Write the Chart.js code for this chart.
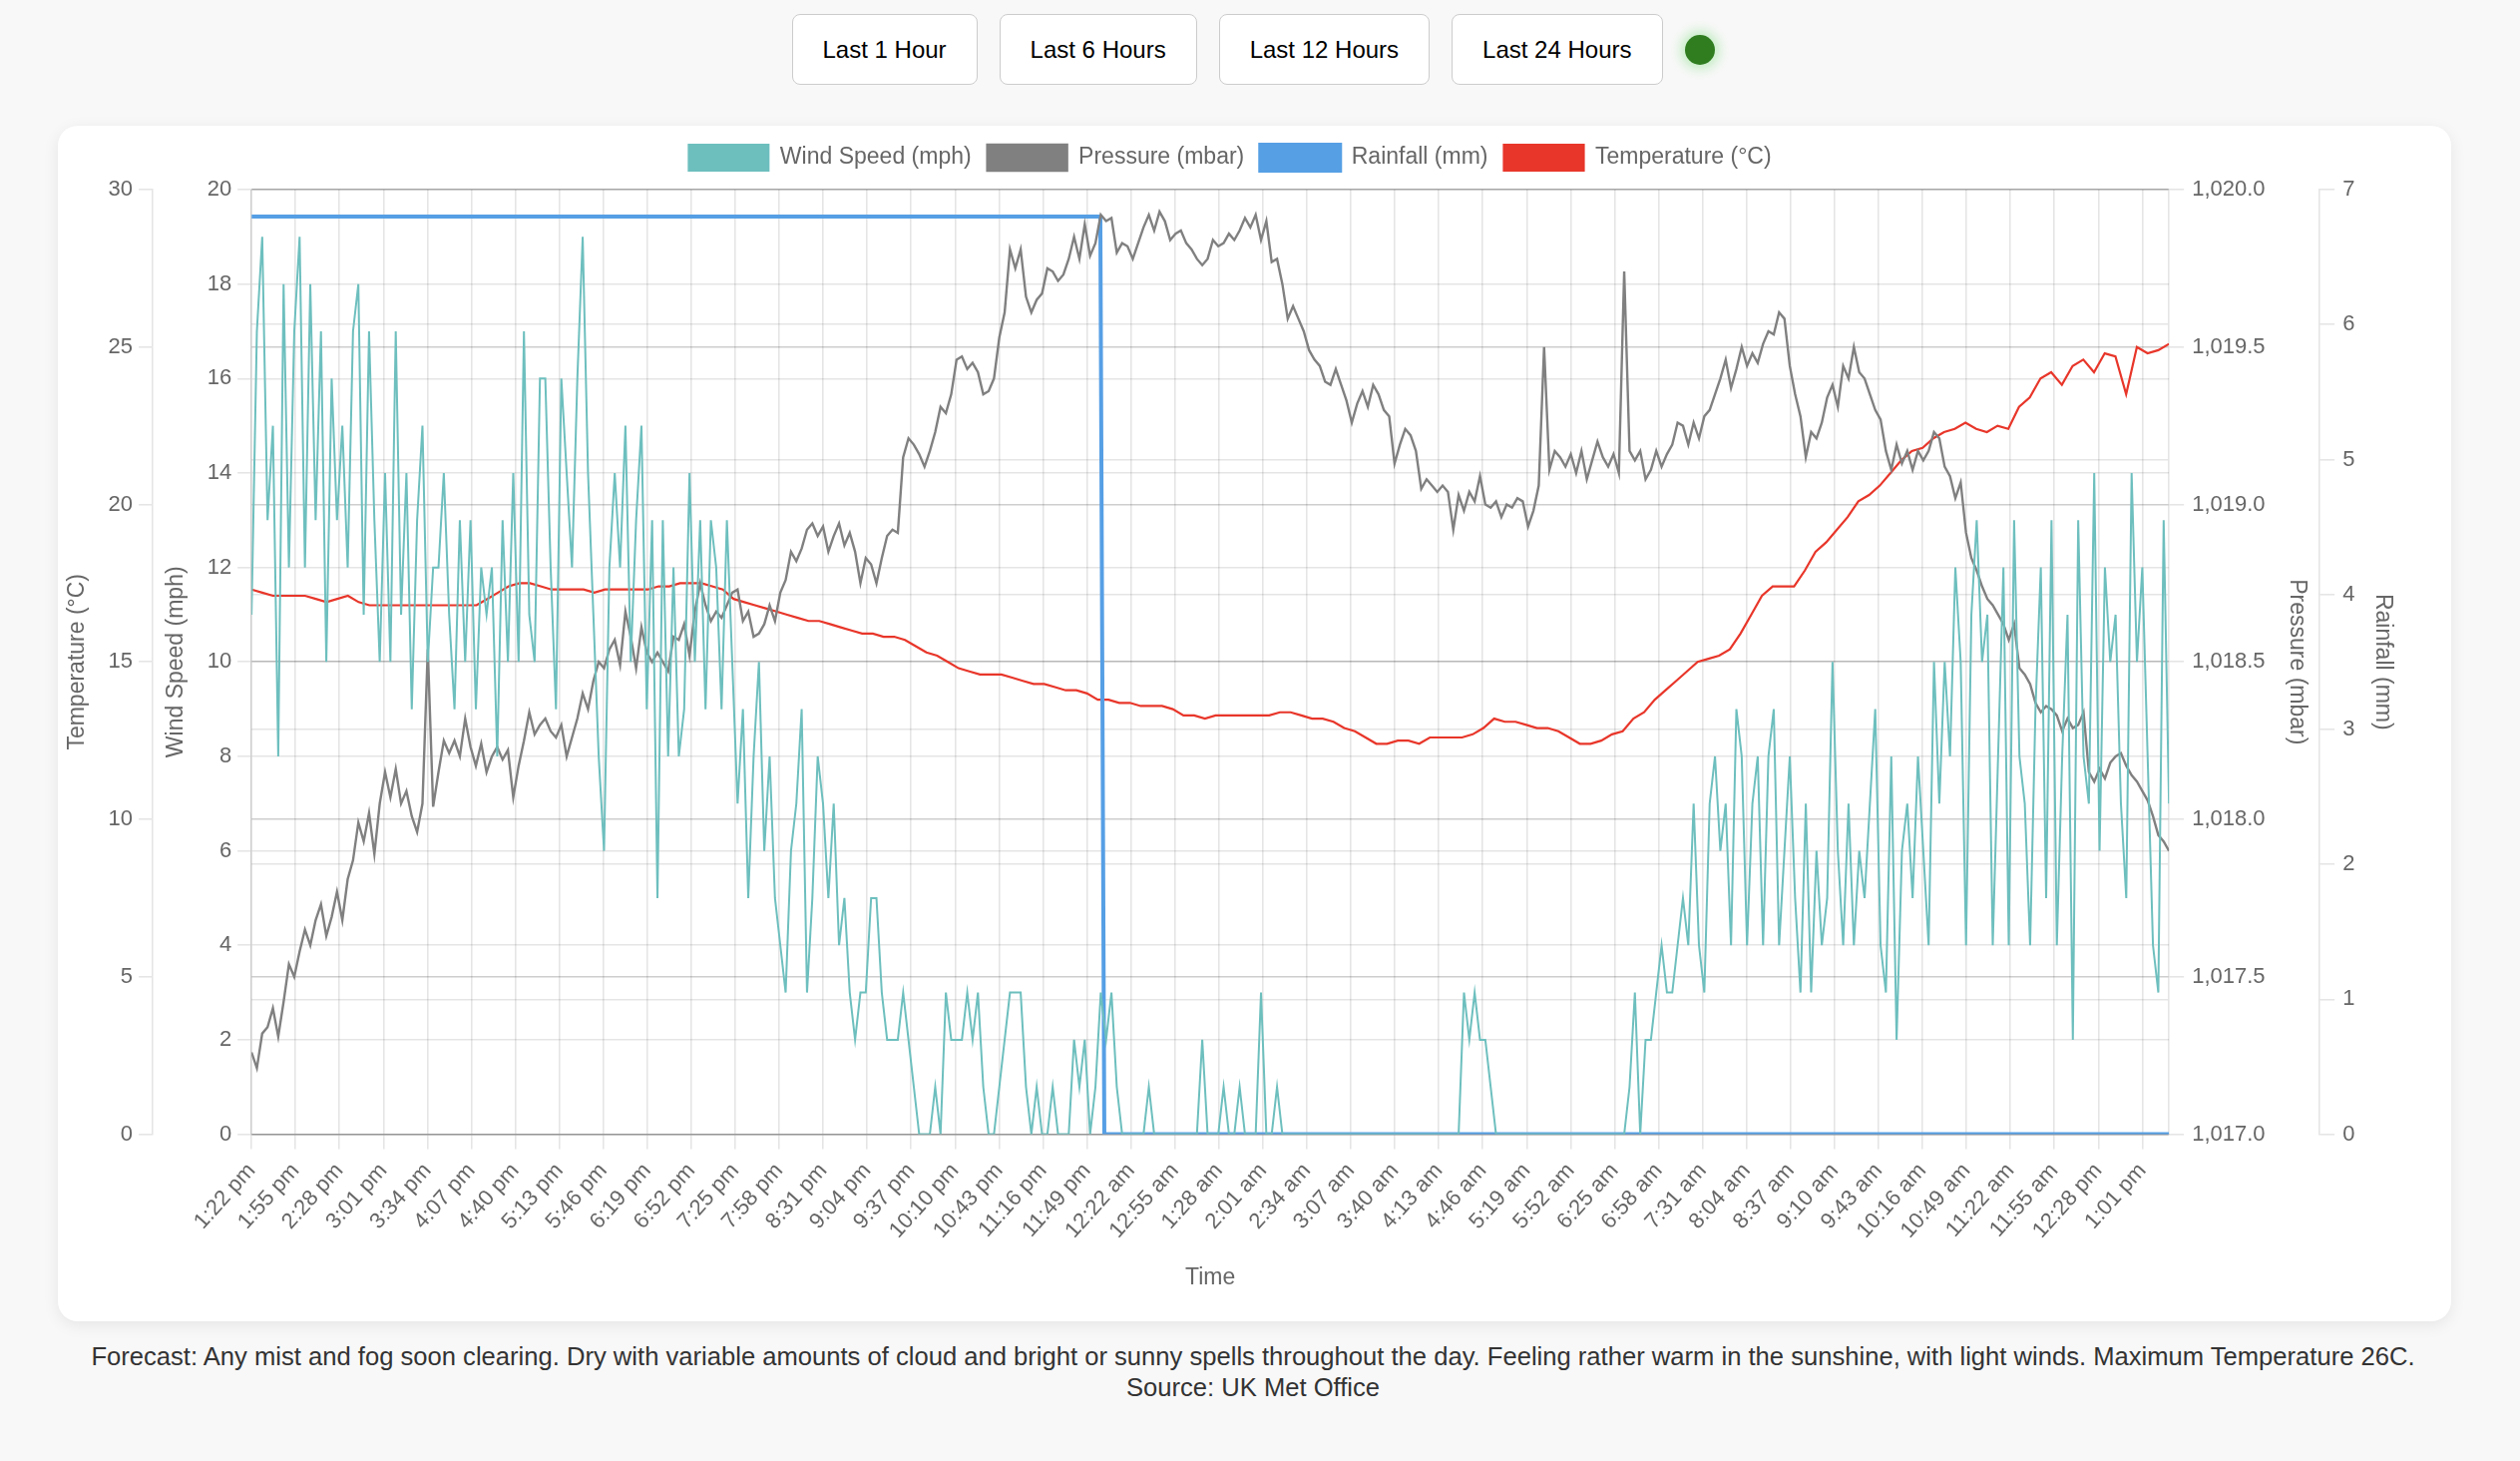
<!DOCTYPE html>
<html lang="en">
<head>
<meta charset="utf-8">
<title>Weather Station</title>
<script src="https://cdn.jsdelivr.net/npm/chart.js@4.4.1/dist/chart.umd.min.js"></script>
<style>
    html, body {
        margin: 0;
        padding: 0;
        background: #f8f8f8;
        font-family: "Liberation Sans", Arial, sans-serif;
    }
    .page {
        width: 2512px;
    }
    .controls {
        display: flex;
        justify-content: center;
        align-items: center;
        gap: 22px;
        padding-top: 14px;
        height: 71px;
    }
    .controls button {
        height: 71px;
        padding: 0 30px;
        font-family: inherit;
        font-size: 24px;
        color: #000;
        background: #fff;
        border: 1.6px solid #ccc;
        border-radius: 8px;
    }
    .status-dot {
        width: 30px;
        height: 30px;
        border-radius: 50%;
        background: #2f7d1f;
        box-shadow: 0 0 12px 4px rgba(120, 220, 120, 0.45);
    }
    .card {
        position: relative;
        margin: 41px 0 0 58px;
        width: 2399px;
        height: 1198px;
        background: #fff;
        border-radius: 20px;
        box-shadow: 0 4px 16px rgba(0, 0, 0, 0.08);
    }
    .forecast {
        margin: 20px 0 0;
        text-align: center;
        font-size: 25.6px;
        line-height: 31px;
        color: #333;
    }
</style>
</head>
<body>
<div class="page">
    <div class="controls">
        <button>Last 1 Hour</button>
        <button>Last 6 Hours</button>
        <button>Last 12 Hours</button>
        <button>Last 24 Hours</button>
        <div class="status-dot"></div>
    </div>

    <div class="card">
        <canvas id="weatherChart"></canvas>
    </div>

    <p class="forecast">
        Forecast: Any mist and fog soon clearing. Dry with variable amounts of cloud and bright or sunny spells throughout the day. Feeling rather warm in the sunshine, with light winds. Maximum Temperature 26C.<br>
        Source: UK Met Office
    </p>
</div>

<script>
// ---------- CHART DATA ----------
// minutes since the first reading (1:22 pm), one reading per minute over 24h
const SPAN_MINUTES = 1439;
const TICK_EVERY = 33;

const timeLabels = [
    "1:22 pm", "1:55 pm", "2:28 pm", "3:01 pm", "3:34 pm", "4:07 pm", "4:40 pm", "5:13 pm",
    "5:46 pm", "6:19 pm", "6:52 pm", "7:25 pm", "7:58 pm", "8:31 pm", "9:04 pm", "9:37 pm",
    "10:10 pm", "10:43 pm", "11:16 pm", "11:49 pm", "12:22 am", "12:55 am", "1:28 am", "2:01 am",
    "2:34 am", "3:07 am", "3:40 am", "4:13 am", "4:46 am", "5:19 am", "5:52 am", "6:25 am",
    "6:58 am", "7:31 am", "8:04 am", "8:37 am", "9:10 am", "9:43 am", "10:16 am", "10:49 am",
    "11:22 am", "11:55 am", "12:28 pm", "1:01 pm"
];

// wind speed (mph), every ~4 minutes
const windSpeed = [
    11,17,19,13,15,8,18,12,17,19, 12,18,13,17,10,16,13,15,12,17,
    18,11,17,13,10,14,10,17,11,14, 9,13,15,10,12,12,14,11,9,13,
    10,13,9,12,11,12,8,13,10,14, 10,17,11,10,16,16,12,9,16,14,
    12,16,19,14,11,8,6,12,14,12, 15,10,13,15,9,13,5,13,8,12,
    8,9,14,10,13,9,13,12,
    9,13,10,7,9,5,8,10,6,8, 5,4,3,6,7,9,3,5,8,7,
    5,7,4,5,3,2,3,3,5,5, 3,2,2,2,3,2,1,0,0,0,
    1,0,3,2,2,2,3,2,3,1, 0,0,1,2,3,3,3,1,0,1,
    0,0,1,0,0,0,2,1,2,0, 1,3,2,3,1,0,0,0,0,0,
    1,0,0,0,0,0,0,0,0,0,
    2,0,0,0,1,0,0,1,0,0, 0,3,0,0,1,0,0,0,0,0,
    0,0,0,0,0,0,0,0,0,0, 0,0,0,0,0,0,0,0,0,0,
    0,0,0,0,0,0,0,0,0,3, 2,3,2,2,1,0,0,0,0,0,
    0,0,0,0,0,0,0,0,0,0, 0,0,0,0,0,0,0,0,0,0,
    1,3,0,2,2,3,4,3,3,4,
    5,4,7,4,3,7,8,6,7,4, 9,8,4,7,8,4,8,9,4,6,
    8,5,3,7,3,6,4,5,10,6, 4,7,4,6,5,7,9,4,3,8,
    2,6,7,5,8,6,4,10,7,10, 8,12,10,4,11,13,10,11,4,8,
    12,4,13,8,7,4,9,12,5,13, 4,8,11,2,13,8,7,14,6,12,
    10,11,7,5,14,10,12,8,4,3, 13,7
];

// pressure (mbar), every ~4 minutes
const pressure = [
    1017.26,1017.21,1017.32,1017.34,1017.40,1017.31,1017.42,1017.54,1017.50,1017.58,
    1017.65,1017.60,1017.68,1017.73,1017.63,1017.69,1017.77,1017.68,1017.81,1017.87,
    1017.99,1017.93,1018.02,1017.89,1018.05,1018.15,1018.07,1018.16,1018.05,1018.09,
    1018.01,1017.96,1018.05,1018.54,1018.04,1018.15,1018.25,1018.21,1018.25,1018.20,
    1018.32,1018.23,1018.17,1018.24,1018.15,1018.20,1018.23,1018.19,1018.22,1018.07,
    1018.17,1018.25,1018.34,1018.27,1018.30,1018.32,1018.28,1018.26,1018.30,1018.20,
    1018.26,1018.32,1018.40,1018.35,1018.44,1018.50,1018.48,1018.54,1018.57,1018.49,
    1018.66,1018.58,1018.48,1018.61,1018.53,1018.50,1018.53,1018.50,1018.47,1018.58,
    1018.57,1018.62,1018.52,1018.66,1018.75,1018.68,1018.63,1018.66,
    1018.64,1018.68,1018.72,1018.73,1018.63,1018.66,1018.58,1018.59,1018.62,1018.68,
    1018.63,1018.72,1018.76,1018.85,1018.82,1018.86,1018.92,1018.94,1018.90,1018.93,
    1018.85,1018.90,1018.94,1018.87,1018.91,1018.85,1018.75,1018.83,1018.81,1018.75,
    1018.83,1018.90,1018.92,1018.91,1019.15,1019.21,1019.19,1019.16,1019.12,1019.17,
    1019.23,1019.31,1019.29,1019.35,1019.46,1019.47,1019.43,1019.45,1019.42,1019.35,
    1019.36,1019.40,1019.53,1019.61,1019.81,1019.75,1019.81,1019.66,1019.61,1019.65,
    1019.67,1019.75,1019.74,1019.71,1019.73,1019.78,1019.85,1019.78,1019.89,1019.79,
    1019.83,1019.92,1019.90,1019.91,1019.80,1019.83,1019.82,1019.78,1019.83,1019.88,
    1019.92,1019.87,1019.93,1019.90,1019.84,1019.86,1019.87,1019.83,1019.81,1019.78,
    1019.76,1019.78,1019.84,1019.82,1019.83,1019.86,1019.84,1019.87,1019.91,1019.88,
    1019.92,1019.84,1019.90,1019.77,1019.78,1019.70,1019.59,1019.63,1019.59,1019.55,
    1019.49,1019.46,1019.44,1019.39,1019.38,1019.43,1019.38,1019.33,1019.26,1019.32,
    1019.36,1019.31,1019.38,1019.35,1019.30,1019.28,1019.13,1019.19,1019.24,1019.22,
    1019.17,1019.05,1019.08,1019.06,1019.04,1019.06,1019.04,1018.92,1019.03,1018.98,
    1019.04,1019.01,1019.09,1019.00,1018.99,1019.01,1018.96,1019.00,1018.99,1019.02,
    1019.01,1018.93,1018.98,1019.06,1019.50,1019.11,1019.17,1019.15,1019.12,1019.16,
    1019.10,1019.17,1019.08,1019.14,1019.20,1019.15,1019.12,1019.16,1019.10,1019.74,
    1019.17,1019.14,1019.17,1019.08,1019.11,1019.17,1019.12,1019.16,1019.19,1019.26,
    1019.25,1019.19,1019.26,1019.21,1019.28,1019.30,1019.35,1019.40,1019.46,1019.37,
    1019.43,1019.50,1019.44,1019.48,1019.45,1019.51,1019.55,1019.54,1019.61,1019.59,
    1019.44,1019.35,1019.28,1019.15,1019.23,1019.21,1019.26,1019.34,1019.38,1019.31,
    1019.44,1019.40,1019.50,1019.42,1019.40,1019.35,1019.30,1019.27,1019.17,1019.11,
    1019.19,1019.13,1019.17,1019.11,1019.17,1019.14,1019.17,1019.23,1019.21,1019.12,
    1019.09,1019.02,1019.07,1018.91,1018.83,1018.79,1018.74,1018.70,1018.68,1018.65,
    1018.62,1018.57,1018.62,1018.48,1018.46,1018.43,1018.37,1018.34,1018.36,1018.35,
    1018.33,1018.28,1018.32,1018.29,1018.30,1018.34,1018.15,1018.12,1018.16,1018.13,
    1018.18,1018.20,1018.21,1018.17,1018.14,1018.12,1018.09,1018.06,1018.01,1017.95,
    1017.93,1017.90
];

// temperature (°C), every ~8 minutes
const temperature = [
    17.3,17.2,17.1,17.1,17.1,17.1,17.0,16.9,17.0,17.1, 16.9,16.8,16.8,16.8,16.8,16.8,16.8,16.8,16.8,16.8,
    16.8,16.8,17.0,17.2,17.4,17.5,17.5,17.4,17.3,17.3, 17.3,17.3,17.2,17.3,17.3,17.3,17.3,17.3,17.4,17.4,
    17.5,17.5,17.5,17.4,17.3,
    17.0,16.9,16.8,16.7,16.6,16.5,16.4,16.3,16.3,16.2, 16.1,16.0,15.9,15.9,15.8,15.8,15.7,15.5,15.3,15.2,
    15.0,14.8,14.7,14.6,14.6,14.6,14.5,14.4,14.3,14.3, 14.2,14.1,14.1,14.0,13.8,13.8,13.7,13.7,13.6,13.6,
    13.6,13.5,13.3,13.3,13.2,13.3,
    13.3,13.3,13.3,13.3,13.3,13.4,13.4,13.3,13.2,13.2, 13.1,12.9,12.8,12.6,12.4,12.4,12.5,12.5,12.4,12.6,
    12.6,12.6,12.6,12.7,12.9,13.2,13.1,13.1,13.0,12.9, 12.9,12.8,12.6,12.4,12.4,12.5,12.7,12.8,13.2,13.4,
    13.8,14.1,14.4,14.7,15.0,
    15.1,15.2,15.4,15.9,16.5,17.1,17.4,17.4,17.4,17.9, 18.5,18.8,19.2,19.6,20.1,20.3,20.6,21.0,21.4,21.7,
    21.8,22.1,22.3,22.4,22.6,22.4,22.3,22.5,22.4,23.1, 23.4,24.0,24.2,23.8,24.4,24.6,24.2,24.8,24.7,23.5,
    25.0,24.8,24.9,25.1
];

// daily rainfall total (mm), resets at midnight
const rainTimes = [0, 637, 640, 1439];
const rainfall = [6.8, 6.8, 0, 0];

// ---------- HELPERS ----------
function spreadOverDay(values) {
    const step = SPAN_MINUTES / (values.length - 1);
    return values.map((v, i) => ({ x: i * step, y: v }));
}

// legend needs a little more room below it
const legendSpacing = {
    id: "legendSpacing",
    beforeInit(chart) {
        const originalFit = chart.legend.fit;
        chart.legend.fit = function fit() {
            originalFit.bind(chart.legend)();
            this.height += 9;
        };
    }
};

const gridStyle = { color: "rgba(0,0,0,0.1)", lineWidth: 1.6, tickLength: 14 };
const borderStyle = { color: "rgba(0,0,0,0.1)", width: 1.6 };
const titleFont = { size: 23 };

Chart.defaults.font.family = "'Liberation Sans', Arial, sans-serif";
Chart.defaults.font.size = 22;
Chart.defaults.color = "#666";

// ---------- LINE CHART ----------
new Chart(document.getElementById("weatherChart").getContext("2d"), {
    type: "line",
    data: {
        datasets: [
            {
                label: "Wind Speed (mph)",
                data: spreadOverDay(windSpeed),
                borderColor: "#6dbfbe",
                backgroundColor: "#6dbfbe",
                borderWidth: 2,
                yAxisID: "yWind"
            },
            {
                label: "Pressure (mbar)",
                data: spreadOverDay(pressure),
                borderColor: "#808080",
                backgroundColor: "#808080",
                borderWidth: 2.4,
                yAxisID: "yPressure"
            },
            {
                label: "Rainfall (mm)",
                data: rainTimes.map((t, i) => ({ x: t, y: rainfall[i] })),
                borderColor: "#569fe5",
                backgroundColor: "#569fe5",
                borderWidth: 4,
                yAxisID: "yRain"
            },
            {
                label: "Temperature (°C)",
                data: spreadOverDay(temperature),
                borderColor: "#e8362a",
                backgroundColor: "#e8362a",
                borderWidth: 2.2,
                yAxisID: "yTemp"
            }
        ]
    },
    options: {
        responsive: true,
        maintainAspectRatio: false,
        animation: false,
        layout: { padding: { left: 0, right: 49, top: 3, bottom: 29 } },
        elements: { point: { radius: 0 }, line: { tension: 0 } },
        plugins: {
            legend: {
                labels: { boxWidth: 80, boxHeight: 26, padding: 16, font: { size: 23 } }
            },
            tooltip: { enabled: false }
        },
        scales: {
            x: {
                type: "linear",
                min: 0,
                max: SPAN_MINUTES,
                title: { display: true, text: "Time", font: titleFont, padding: { top: 11, bottom: 1 } },
                ticks: {
                    stepSize: TICK_EVERY,
                    autoSkip: false,
                    includeBounds: false,
                    minRotation: 48,
                    maxRotation: 48,
                    padding: 9,
                    callback: (value) => timeLabels[Math.round(value / TICK_EVERY)]
                },
                grid: { ...gridStyle, tickLength: 15 },
                border: borderStyle
            },
            yTemp: {
                position: "left",
                weight: 1,
                min: 0,
                max: 30,
                title: { display: true, text: "Temperature (°C)", font: titleFont, padding: { top: 6, bottom: 11 } },
                ticks: { stepSize: 5, padding: 6 },
                grid: gridStyle,
                border: borderStyle
            },
            yWind: {
                position: "left",
                weight: 0,
                min: 0,
                max: 20,
                title: { display: true, text: "Wind Speed (mph)", font: titleFont, padding: { top: 10, bottom: 11 } },
                ticks: { stepSize: 2, padding: 6 },
                grid: gridStyle,
                border: borderStyle
            },
            yPressure: {
                position: "right",
                weight: 0,
                min: 1017,
                max: 1020,
                title: { display: true, text: "Pressure (mbar)", font: titleFont, padding: { top: 9, bottom: 10 } },
                ticks: { stepSize: 0.5, padding: 8 },
                grid: { ...gridStyle, tickLength: 15 },
                border: borderStyle
            },
            yRain: {
                position: "right",
                weight: 1,
                min: 0,
                max: 7,
                title: { display: true, text: "Rainfall (mm)", font: titleFont, padding: { top: 6, bottom: 6 } },
                ticks: { stepSize: 1, padding: 8 },
                grid: { ...gridStyle, tickLength: 15 },
                border: borderStyle
            }
        }
    },
    plugins: [legendSpacing]
});
</script>
</body>
</html>
